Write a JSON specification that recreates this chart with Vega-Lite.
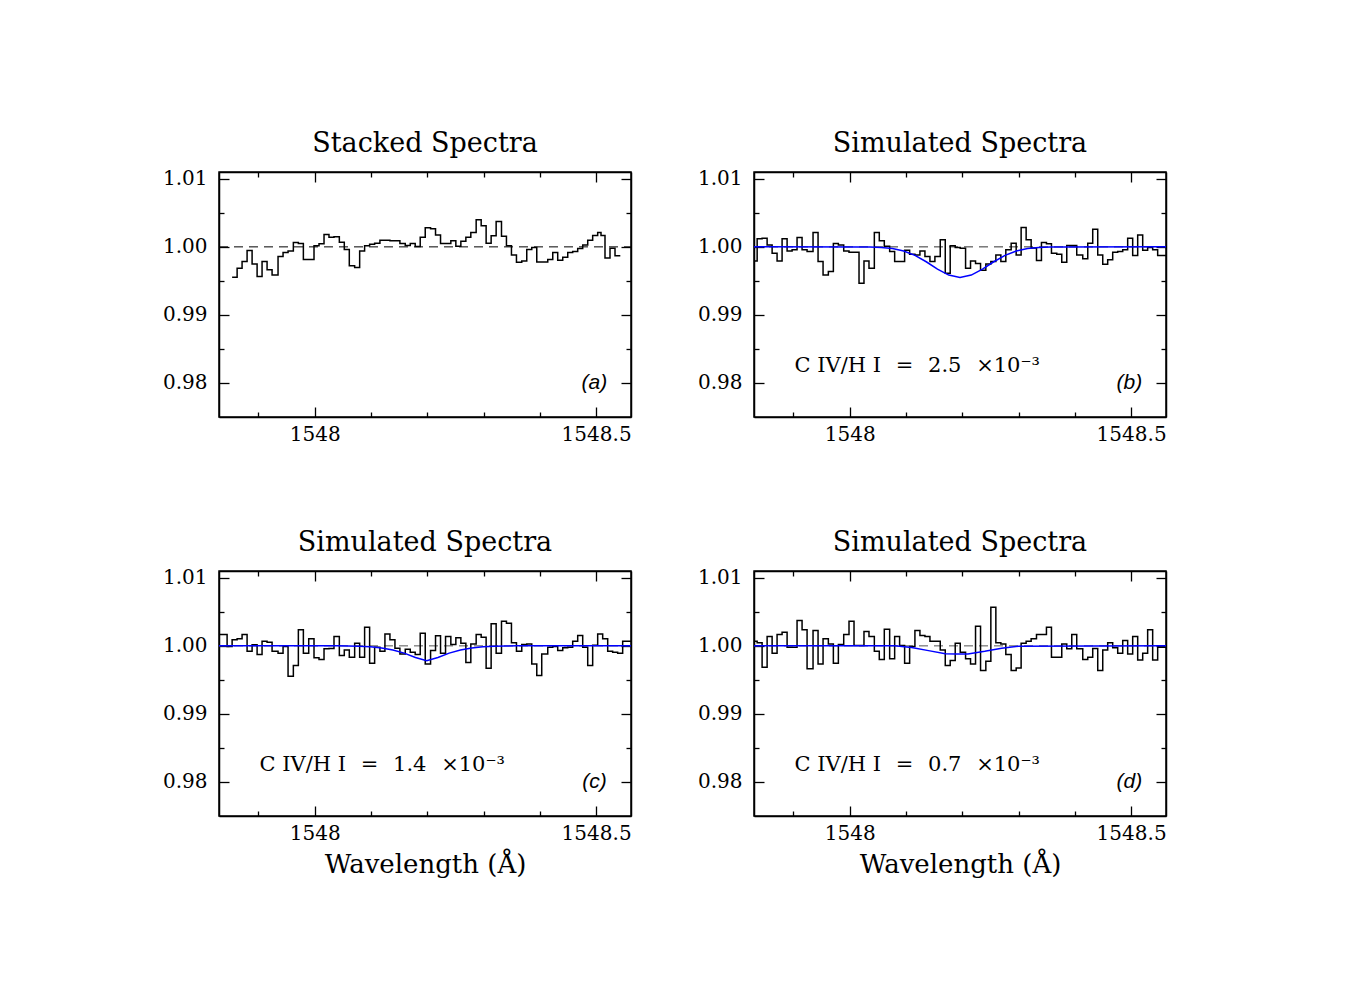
{
  "$schema": "https://vega.github.io/schema/vega-lite/v6.json",
  "background": "white",
  "padding": {"left": 161, "top": 129, "right": 10, "bottom": 10},
  "columns": 2,
  "spacing": {"row": 154, "column": 123},
  "bounds": "flush",
  "datasets": {
    "unity": [{"wavelength": 1547.83, "flux": 1.0}, {"wavelength": 1548.562, "flux": 1.0}],
    "a": [
      {"wavelength": 1547.8533, "flux": 0.99554}, {"wavelength": 1547.8622, "flux": 0.99686}, {"wavelength": 1547.871, "flux": 0.99784}, {"wavelength": 1547.8799, "flux": 0.99946}, {"wavelength": 1547.8888, "flux": 0.9975}, {"wavelength": 1547.8977, "flux": 0.99564}, {"wavelength": 1547.9065, "flux": 0.99784}, {"wavelength": 1547.9154, "flux": 0.99662}, {"wavelength": 1547.9243, "flux": 0.99588}, {"wavelength": 1547.9349, "flux": 0.99858}, {"wavelength": 1547.9438, "flux": 0.99917}, {"wavelength": 1547.9527, "flux": 0.99941}, {"wavelength": 1547.9621, "flux": 1.00064}, {"wavelength": 1547.971, "flux": 1.00049}, {"wavelength": 1547.9799, "flux": 0.99814}, {"wavelength": 1547.9988, "flux": 1.00015}, {"wavelength": 1548.0077, "flux": 1.00044}, {"wavelength": 1548.0166, "flux": 1.00181}, {"wavelength": 1548.0254, "flux": 1.00142}, {"wavelength": 1548.0343, "flux": 1.00147}, {"wavelength": 1548.0438, "flux": 1.00069}, {"wavelength": 1548.0526, "flux": 0.99961}, {"wavelength": 1548.0615, "flux": 0.99721}, {"wavelength": 1548.071, "flux": 0.99696}, {"wavelength": 1548.0799, "flux": 0.99941}, {"wavelength": 1548.0887, "flux": 1.00015}, {"wavelength": 1548.0976, "flux": 1.00039}, {"wavelength": 1548.1065, "flux": 1.00054}, {"wavelength": 1548.1159, "flux": 1.00098}, {"wavelength": 1548.1337, "flux": 1.00088}, {"wavelength": 1548.1514, "flux": 1.00049}, {"wavelength": 1548.1609, "flux": 1.0002}, {"wavelength": 1548.1698, "flux": 1.00049}, {"wavelength": 1548.1786, "flux": 1.00005}, {"wavelength": 1548.1875, "flux": 1.00142}, {"wavelength": 1548.1964, "flux": 1.00279}, {"wavelength": 1548.2059, "flux": 1.00265}, {"wavelength": 1548.2147, "flux": 1.00176}, {"wavelength": 1548.2236, "flux": 1.00049}, {"wavelength": 1548.2419, "flux": 1.00088}, {"wavelength": 1548.2508, "flux": 1.0001}, {"wavelength": 1548.2597, "flux": 1.00083}, {"wavelength": 1548.2686, "flux": 1.00142}, {"wavelength": 1548.2774, "flux": 1.00211}, {"wavelength": 1548.2869, "flux": 1.00397}, {"wavelength": 1548.2958, "flux": 1.00309}, {"wavelength": 1548.3046, "flux": 1.00054}, {"wavelength": 1548.3135, "flux": 1.00162}, {"wavelength": 1548.3224, "flux": 1.00373}, {"wavelength": 1548.3319, "flux": 1.00157}, {"wavelength": 1548.3407, "flux": 1.00015}, {"wavelength": 1548.3496, "flux": 0.99882}, {"wavelength": 1548.3585, "flux": 0.99775}, {"wavelength": 1548.3679, "flux": 0.99794}, {"wavelength": 1548.3768, "flux": 0.99961}, {"wavelength": 1548.3857, "flux": 0.9999}, {"wavelength": 1548.3946, "flux": 0.99779}, {"wavelength": 1548.4141, "flux": 0.99814}, {"wavelength": 1548.423, "flux": 0.99917}, {"wavelength": 1548.4318, "flux": 0.99804}, {"wavelength": 1548.4407, "flux": 0.99848}, {"wavelength": 1548.4496, "flux": 0.99917}, {"wavelength": 1548.4584, "flux": 0.99931}, {"wavelength": 1548.4673, "flux": 0.99975}, {"wavelength": 1548.4762, "flux": 1.00029}, {"wavelength": 1548.4851, "flux": 1.00098}, {"wavelength": 1548.4939, "flux": 1.00167}, {"wavelength": 1548.5028, "flux": 1.00211}, {"wavelength": 1548.5087, "flux": 1.00167}, {"wavelength": 1548.5158, "flux": 0.99838}, {"wavelength": 1548.5247, "flux": 0.9998}, {"wavelength": 1548.5336, "flux": 0.99868}, {"wavelength": 1548.543, "flux": 0.99868}
    ],
    "b": [
      {"wavelength": 1547.8302, "flux": 0.99794}, {"wavelength": 1547.8356, "flux": 1.00118}, {"wavelength": 1547.8444, "flux": 1.00127}, {"wavelength": 1547.8533, "flux": 1.00029}, {"wavelength": 1547.8622, "flux": 0.99907}, {"wavelength": 1547.871, "flux": 0.99794}, {"wavelength": 1547.8799, "flux": 1.00118}, {"wavelength": 1547.8888, "flux": 0.99941}, {"wavelength": 1547.8977, "flux": 0.99956}, {"wavelength": 1547.9065, "flux": 1.00137}, {"wavelength": 1547.9154, "flux": 0.99956}, {"wavelength": 1547.9243, "flux": 0.99931}, {"wavelength": 1547.9349, "flux": 1.00211}, {"wavelength": 1547.9438, "flux": 0.99784}, {"wavelength": 1547.9527, "flux": 0.99588}, {"wavelength": 1547.9621, "flux": 0.99637}, {"wavelength": 1547.971, "flux": 1.00049}, {"wavelength": 1547.9799, "flux": 1.00029}, {"wavelength": 1547.9894, "flux": 0.99941}, {"wavelength": 1547.9988, "flux": 0.99922}, {"wavelength": 1548.0077, "flux": 0.99922}, {"wavelength": 1548.0166, "flux": 0.99466}, {"wavelength": 1548.0254, "flux": 0.99794}, {"wavelength": 1548.0343, "flux": 0.99686}, {"wavelength": 1548.0438, "flux": 1.00211}, {"wavelength": 1548.0526, "flux": 1.00088}, {"wavelength": 1548.0615, "flux": 1.0001}, {"wavelength": 1548.071, "flux": 0.99931}, {"wavelength": 1548.0799, "flux": 0.99784}, {"wavelength": 1548.0887, "flux": 0.99784}, {"wavelength": 1548.0976, "flux": 0.99951}, {"wavelength": 1548.1065, "flux": 0.99892}, {"wavelength": 1548.1159, "flux": 0.99882}, {"wavelength": 1548.1248, "flux": 0.99941}, {"wavelength": 1548.1337, "flux": 0.99858}, {"wavelength": 1548.1426, "flux": 0.99784}, {"wavelength": 1548.1514, "flux": 0.99858}, {"wavelength": 1548.1609, "flux": 1.00103}, {"wavelength": 1548.1698, "flux": 0.99613}, {"wavelength": 1548.1786, "flux": 1.00015}, {"wavelength": 1548.1875, "flux": 0.9999}, {"wavelength": 1548.1964, "flux": 0.9998}, {"wavelength": 1548.2059, "flux": 0.99686}, {"wavelength": 1548.2147, "flux": 0.99794}, {"wavelength": 1548.2236, "flux": 0.99755}, {"wavelength": 1548.2325, "flux": 0.99657}, {"wavelength": 1548.2419, "flux": 0.9975}, {"wavelength": 1548.2508, "flux": 0.99784}, {"wavelength": 1548.2597, "flux": 0.99882}, {"wavelength": 1548.2686, "flux": 0.99784}, {"wavelength": 1548.2774, "flux": 0.99956}, {"wavelength": 1548.2869, "flux": 1.00054}, {"wavelength": 1548.2958, "flux": 0.99882}, {"wavelength": 1548.3046, "flux": 1.00284}, {"wavelength": 1548.3135, "flux": 1.00103}, {"wavelength": 1548.3224, "flux": 0.99985}, {"wavelength": 1548.3319, "flux": 0.99799}, {"wavelength": 1548.3407, "flux": 1.00064}, {"wavelength": 1548.3496, "flux": 1.00044}, {"wavelength": 1548.3585, "flux": 0.99907}, {"wavelength": 1548.3679, "flux": 0.99892}, {"wavelength": 1548.3768, "flux": 0.99775}, {"wavelength": 1548.3857, "flux": 1.0002}, {"wavelength": 1548.3946, "flux": 1.0002}, {"wavelength": 1548.4034, "flux": 0.99882}, {"wavelength": 1548.4141, "flux": 0.99824}, {"wavelength": 1548.423, "flux": 1.00054}, {"wavelength": 1548.4318, "flux": 1.0026}, {"wavelength": 1548.4407, "flux": 0.99882}, {"wavelength": 1548.4496, "flux": 0.99745}, {"wavelength": 1548.4584, "flux": 0.99809}, {"wavelength": 1548.4673, "flux": 0.99922}, {"wavelength": 1548.4762, "flux": 0.99931}, {"wavelength": 1548.4851, "flux": 0.99956}, {"wavelength": 1548.4939, "flux": 1.00127}, {"wavelength": 1548.5028, "flux": 0.99873}, {"wavelength": 1548.5117, "flux": 1.00176}, {"wavelength": 1548.5206, "flux": 0.99951}, {"wavelength": 1548.5294, "flux": 0.9999}, {"wavelength": 1548.5383, "flux": 0.99956}, {"wavelength": 1548.5472, "flux": 0.99873}, {"wavelength": 1548.562, "flux": 0.99873}
    ],
    "c": [
      {"wavelength": 1547.8302, "flux": 1.00167}, {"wavelength": 1547.8356, "flux": 1.00167}, {"wavelength": 1547.8444, "flux": 0.9999}, {"wavelength": 1547.8533, "flux": 1.00088}, {"wavelength": 1547.8622, "flux": 1.00103}, {"wavelength": 1547.871, "flux": 1.00167}, {"wavelength": 1547.8799, "flux": 0.99922}, {"wavelength": 1547.8888, "flux": 1.00015}, {"wavelength": 1547.8977, "flux": 0.99873}, {"wavelength": 1547.9065, "flux": 1.00069}, {"wavelength": 1547.9154, "flux": 1.00054}, {"wavelength": 1547.9243, "flux": 0.99922}, {"wavelength": 1547.9349, "flux": 0.99892}, {"wavelength": 1547.9438, "flux": 0.9999}, {"wavelength": 1547.9527, "flux": 0.99554}, {"wavelength": 1547.9621, "flux": 0.99711}, {"wavelength": 1547.971, "flux": 1.00235}, {"wavelength": 1547.9799, "flux": 0.99892}, {"wavelength": 1547.9894, "flux": 1.00103}, {"wavelength": 1547.9988, "flux": 0.99824}, {"wavelength": 1548.0077, "flux": 0.99799}, {"wavelength": 1548.0166, "flux": 0.99956}, {"wavelength": 1548.0254, "flux": 0.99961}, {"wavelength": 1548.0343, "flux": 1.00137}, {"wavelength": 1548.0438, "flux": 0.99858}, {"wavelength": 1548.0526, "flux": 0.99941}, {"wavelength": 1548.0615, "flux": 0.99833}, {"wavelength": 1548.071, "flux": 1.00039}, {"wavelength": 1548.0799, "flux": 0.99833}, {"wavelength": 1548.0887, "flux": 1.00275}, {"wavelength": 1548.0976, "flux": 0.99745}, {"wavelength": 1548.1065, "flux": 0.9998}, {"wavelength": 1548.1159, "flux": 0.99922}, {"wavelength": 1548.1248, "flux": 1.00176}, {"wavelength": 1548.1337, "flux": 1.00088}, {"wavelength": 1548.1426, "flux": 0.99966}, {"wavelength": 1548.1514, "flux": 0.99882}, {"wavelength": 1548.1609, "flux": 0.99951}, {"wavelength": 1548.1698, "flux": 0.99907}, {"wavelength": 1548.1786, "flux": 0.99873}, {"wavelength": 1548.1875, "flux": 1.00186}, {"wavelength": 1548.1964, "flux": 0.99735}, {"wavelength": 1548.2059, "flux": 0.99931}, {"wavelength": 1548.2147, "flux": 1.00147}, {"wavelength": 1548.2236, "flux": 0.99892}, {"wavelength": 1548.2325, "flux": 1.00137}, {"wavelength": 1548.2419, "flux": 1.0002}, {"wavelength": 1548.2508, "flux": 1.00118}, {"wavelength": 1548.2597, "flux": 1.00039}, {"wavelength": 1548.2686, "flux": 0.99755}, {"wavelength": 1548.2774, "flux": 1.00029}, {"wavelength": 1548.2869, "flux": 1.00167}, {"wavelength": 1548.2958, "flux": 1.00127}, {"wavelength": 1548.3046, "flux": 0.99672}, {"wavelength": 1548.3135, "flux": 1.00324}, {"wavelength": 1548.3224, "flux": 0.99892}, {"wavelength": 1548.3319, "flux": 1.00363}, {"wavelength": 1548.3407, "flux": 1.00333}, {"wavelength": 1548.3496, "flux": 1.00044}, {"wavelength": 1548.3585, "flux": 0.99922}, {"wavelength": 1548.3679, "flux": 1.0002}, {"wavelength": 1548.3768, "flux": 1.00029}, {"wavelength": 1548.3857, "flux": 0.99735}, {"wavelength": 1548.3946, "flux": 0.99564}, {"wavelength": 1548.4034, "flux": 0.99882}, {"wavelength": 1548.4141, "flux": 0.9998}, {"wavelength": 1548.423, "flux": 0.9999}, {"wavelength": 1548.4318, "flux": 0.99931}, {"wavelength": 1548.4407, "flux": 0.99971}, {"wavelength": 1548.4496, "flux": 0.9998}, {"wavelength": 1548.4584, "flux": 1.00069}, {"wavelength": 1548.4673, "flux": 1.00152}, {"wavelength": 1548.4762, "flux": 0.9998}, {"wavelength": 1548.4851, "flux": 0.99711}, {"wavelength": 1548.4939, "flux": 1.0001}, {"wavelength": 1548.5028, "flux": 1.00176}, {"wavelength": 1548.5117, "flux": 1.00103}, {"wavelength": 1548.5206, "flux": 0.99922}, {"wavelength": 1548.5294, "flux": 0.99907}, {"wavelength": 1548.5383, "flux": 0.99892}, {"wavelength": 1548.5472, "flux": 1.00069}, {"wavelength": 1548.562, "flux": 1.00069}
    ],
    "d": [
      {"wavelength": 1547.8302, "flux": 1.00069}, {"wavelength": 1547.8356, "flux": 1.00044}, {"wavelength": 1547.8444, "flux": 0.99686}, {"wavelength": 1547.8533, "flux": 1.00137}, {"wavelength": 1547.8622, "flux": 0.99892}, {"wavelength": 1547.871, "flux": 1.00167}, {"wavelength": 1547.8799, "flux": 1.00201}, {"wavelength": 1547.8888, "flux": 0.9998}, {"wavelength": 1547.8977, "flux": 0.9998}, {"wavelength": 1547.9065, "flux": 1.00373}, {"wavelength": 1547.9154, "flux": 1.00235}, {"wavelength": 1547.9243, "flux": 0.99662}, {"wavelength": 1547.9349, "flux": 1.00225}, {"wavelength": 1547.9438, "flux": 0.99735}, {"wavelength": 1547.9527, "flux": 1.00103}, {"wavelength": 1547.9621, "flux": 1.00029}, {"wavelength": 1547.971, "flux": 0.99745}, {"wavelength": 1547.9799, "flux": 1.0002}, {"wavelength": 1547.9894, "flux": 1.00167}, {"wavelength": 1547.9988, "flux": 1.00363}, {"wavelength": 1548.0077, "flux": 1.00005}, {"wavelength": 1548.0166, "flux": 1.00005}, {"wavelength": 1548.0254, "flux": 1.00211}, {"wavelength": 1548.0343, "flux": 1.00137}, {"wavelength": 1548.0438, "flux": 0.99922}, {"wavelength": 1548.0526, "flux": 0.99799}, {"wavelength": 1548.0615, "flux": 1.00245}, {"wavelength": 1548.071, "flux": 0.99809}, {"wavelength": 1548.0799, "flux": 1.00137}, {"wavelength": 1548.0887, "flux": 1.00005}, {"wavelength": 1548.0976, "flux": 0.99745}, {"wavelength": 1548.1065, "flux": 0.9999}, {"wavelength": 1548.1159, "flux": 1.00225}, {"wavelength": 1548.1248, "flux": 1.00152}, {"wavelength": 1548.1337, "flux": 1.00137}, {"wavelength": 1548.1426, "flux": 1.00069}, {"wavelength": 1548.1514, "flux": 1.00069}, {"wavelength": 1548.1609, "flux": 0.99941}, {"wavelength": 1548.1698, "flux": 0.99711}, {"wavelength": 1548.1786, "flux": 0.99784}, {"wavelength": 1548.1875, "flux": 1.00039}, {"wavelength": 1548.1964, "flux": 0.99907}, {"wavelength": 1548.2059, "flux": 0.99809}, {"wavelength": 1548.2147, "flux": 0.99735}, {"wavelength": 1548.2236, "flux": 1.00289}, {"wavelength": 1548.2325, "flux": 0.99637}, {"wavelength": 1548.2419, "flux": 0.99775}, {"wavelength": 1548.2508, "flux": 1.00569}, {"wavelength": 1548.2597, "flux": 1.00044}, {"wavelength": 1548.2686, "flux": 1.00029}, {"wavelength": 1548.2774, "flux": 0.99873}, {"wavelength": 1548.2869, "flux": 0.99637}, {"wavelength": 1548.2958, "flux": 0.99676}, {"wavelength": 1548.3046, "flux": 1.00039}, {"wavelength": 1548.3135, "flux": 1.00069}, {"wavelength": 1548.3224, "flux": 1.00103}, {"wavelength": 1548.3319, "flux": 1.00167}, {"wavelength": 1548.3407, "flux": 1.00167}, {"wavelength": 1548.3496, "flux": 1.00275}, {"wavelength": 1548.3585, "flux": 0.99833}, {"wavelength": 1548.3679, "flux": 0.99833}, {"wavelength": 1548.3768, "flux": 1.00029}, {"wavelength": 1548.3857, "flux": 0.99956}, {"wavelength": 1548.3946, "flux": 1.00167}, {"wavelength": 1548.4034, "flux": 0.99956}, {"wavelength": 1548.4141, "flux": 0.99799}, {"wavelength": 1548.423, "flux": 0.99833}, {"wavelength": 1548.4318, "flux": 0.99961}, {"wavelength": 1548.4407, "flux": 0.99637}, {"wavelength": 1548.4496, "flux": 0.99941}, {"wavelength": 1548.4584, "flux": 1.00044}, {"wavelength": 1548.4673, "flux": 0.99971}, {"wavelength": 1548.4762, "flux": 0.99892}, {"wavelength": 1548.4851, "flux": 1.00078}, {"wavelength": 1548.4939, "flux": 0.99882}, {"wavelength": 1548.5028, "flux": 1.00137}, {"wavelength": 1548.5117, "flux": 0.99794}, {"wavelength": 1548.5206, "flux": 0.99892}, {"wavelength": 1548.5294, "flux": 1.00235}, {"wavelength": 1548.5383, "flux": 0.99794}, {"wavelength": 1548.5472, "flux": 0.9998}, {"wavelength": 1548.562, "flux": 0.9998}
    ],
    "mb": [
      {"wavelength": 1547.83, "flux": 1.0}, {"wavelength": 1548.016, "flux": 0.99999}, {"wavelength": 1548.036, "flux": 0.99997}, {"wavelength": 1548.056, "flux": 0.99991}, {"wavelength": 1548.076, "flux": 0.99975}, {"wavelength": 1548.096, "flux": 0.99939}, {"wavelength": 1548.116, "flux": 0.99875}, {"wavelength": 1548.136, "flux": 0.99781}, {"wavelength": 1548.156, "flux": 0.99673}, {"wavelength": 1548.176, "flux": 0.99585}, {"wavelength": 1548.196, "flux": 0.9955}, {"wavelength": 1548.216, "flux": 0.99585}, {"wavelength": 1548.236, "flux": 0.99673}, {"wavelength": 1548.256, "flux": 0.99781}, {"wavelength": 1548.276, "flux": 0.99875}, {"wavelength": 1548.296, "flux": 0.99939}, {"wavelength": 1548.316, "flux": 0.99975}, {"wavelength": 1548.336, "flux": 0.99991}, {"wavelength": 1548.356, "flux": 0.99997}, {"wavelength": 1548.376, "flux": 0.99999}, {"wavelength": 1548.562, "flux": 1.0}
    ],
    "mc": [
      {"wavelength": 1547.83, "flux": 1.0}, {"wavelength": 1548.039, "flux": 1.0}, {"wavelength": 1548.059, "flux": 0.99999}, {"wavelength": 1548.079, "flux": 0.99996}, {"wavelength": 1548.099, "flux": 0.99988}, {"wavelength": 1548.119, "flux": 0.9997}, {"wavelength": 1548.139, "flux": 0.99939}, {"wavelength": 1548.159, "flux": 0.99893}, {"wavelength": 1548.179, "flux": 0.99828}, {"wavelength": 1548.199, "flux": 0.9978}, {"wavelength": 1548.219, "flux": 0.99828}, {"wavelength": 1548.239, "flux": 0.99893}, {"wavelength": 1548.259, "flux": 0.99939}, {"wavelength": 1548.279, "flux": 0.9997}, {"wavelength": 1548.299, "flux": 0.99988}, {"wavelength": 1548.319, "flux": 0.99996}, {"wavelength": 1548.339, "flux": 0.99999}, {"wavelength": 1548.359, "flux": 1.0}, {"wavelength": 1548.562, "flux": 1.0}
    ],
    "md": [
      {"wavelength": 1547.83, "flux": 1.0}, {"wavelength": 1548.08, "flux": 1.0}, {"wavelength": 1548.11, "flux": 0.99975}, {"wavelength": 1548.14, "flux": 0.9993}, {"wavelength": 1548.17, "flux": 0.99885}, {"wavelength": 1548.19, "flux": 0.9988}, {"wavelength": 1548.21, "flux": 0.99882}, {"wavelength": 1548.24, "flux": 0.9992}, {"wavelength": 1548.27, "flux": 0.99965}, {"wavelength": 1548.3, "flux": 0.99995}, {"wavelength": 1548.562, "flux": 1.0}
    ]
  },
  "concat": [
    {
      "title": {"text": "Stacked Spectra"},
      "width": 412, "height": 245,
      "layer": [
        {"data": {"name": "unity"}, "mark": {"type": "line", "color": "black", "strokeWidth": 1, "strokeDash": [9, 6]},
         "encoding": {
           "x": {"field": "wavelength", "type": "quantitative", "scale": {"domain": [1547.83, 1548.562], "nice": false, "zero": false},
                 "axis": {"orient": "top", "title": null, "labels": false, "values": [1547.9, 1548, 1548.1, 1548.2, 1548.3, 1548.4, 1548.5], "tickSize": {"condition": {"test": "datum.value == 1548 || datum.value == 1548.5", "value": -10}, "value": -5}}},
           "y": {"field": "flux", "type": "quantitative", "scale": {"domain": [0.975, 1.011], "nice": false, "zero": false},
                 "axis": {"orient": "right", "title": null, "labels": false, "values": [0.98, 0.985, 0.99, 0.995, 1, 1.005, 1.01], "tickSize": {"condition": {"test": "datum.value == 0.98 || datum.value == 0.99 || datum.value == 1 || datum.value == 1.01", "value": -10}, "value": -5}}}
         }},
        {"data": {"name": "a"}, "mark": {"type": "line", "interpolate": "step-after", "color": "black", "strokeWidth": 1.5},
         "encoding": {
           "x": {"field": "wavelength", "type": "quantitative", "scale": {"domain": [1547.83, 1548.562], "nice": false, "zero": false},
                 "axis": {"orient": "bottom", "title": null, "values": [1547.9, 1548, 1548.1, 1548.2, 1548.3, 1548.4, 1548.5], "labelExpr": "datum.value == 1548 ? '1548' : (datum.value == 1548.5 ? '1548.5' : '')", "tickSize": {"condition": {"test": "datum.value == 1548 || datum.value == 1548.5", "value": -10}, "value": -5}, "labelPadding": 17}},
           "y": {"field": "flux", "type": "quantitative", "scale": {"domain": [0.975, 1.011], "nice": false, "zero": false},
                 "axis": {"orient": "left", "title": null, "values": [0.98, 0.985, 0.99, 0.995, 1, 1.005, 1.01], "labelExpr": "datum.value == 0.98 ? '0.98' : (datum.value == 0.99 ? '0.99' : (datum.value == 1 ? '1.00' : (datum.value == 1.01 ? '1.01' : '')))", "tickSize": {"condition": {"test": "datum.value == 0.98 || datum.value == 0.99 || datum.value == 1 || datum.value == 1.01", "value": -10}, "value": -5}, "labelPadding": 22}}
         }},
        {"data": {"values": [{}]}, "mark": {"type": "text", "text": "(a)", "font": "Liberation Sans", "fontStyle": "italic", "fontSize": 21, "align": "center", "baseline": "middle", "color": "black"},
         "encoding": {"x": {"datum": 1548.497, "type": "quantitative", "axis": null, "scale": {"domain": [1547.83, 1548.562], "nice": false, "zero": false}}, "y": {"datum": 0.98, "type": "quantitative", "axis": null, "scale": {"domain": [0.975, 1.011], "nice": false, "zero": false}}}}
      ],
      "resolve": {"axis": {"x": "independent", "y": "independent"}}
    },
    {
      "title": {"text": "Simulated Spectra"},
      "width": 412, "height": 245,
      "layer": [
        {"data": {"name": "unity"}, "mark": {"type": "line", "color": "#333333", "strokeWidth": 1, "strokeDash": [9, 6]},
         "encoding": {
           "x": {"field": "wavelength", "type": "quantitative", "scale": {"domain": [1547.83, 1548.562], "nice": false, "zero": false},
                 "axis": {"orient": "top", "title": null, "labels": false, "values": [1547.9, 1548, 1548.1, 1548.2, 1548.3, 1548.4, 1548.5], "tickSize": {"condition": {"test": "datum.value == 1548 || datum.value == 1548.5", "value": -10}, "value": -5}}},
           "y": {"field": "flux", "type": "quantitative", "scale": {"domain": [0.975, 1.011], "nice": false, "zero": false},
                 "axis": {"orient": "right", "title": null, "labels": false, "values": [0.98, 0.985, 0.99, 0.995, 1, 1.005, 1.01], "tickSize": {"condition": {"test": "datum.value == 0.98 || datum.value == 0.99 || datum.value == 1 || datum.value == 1.01", "value": -10}, "value": -5}}}
         }},
        {"data": {"name": "b"}, "mark": {"type": "line", "interpolate": "step-after", "color": "black", "strokeWidth": 1.5},
         "encoding": {
           "x": {"field": "wavelength", "type": "quantitative", "scale": {"domain": [1547.83, 1548.562], "nice": false, "zero": false},
                 "axis": {"orient": "bottom", "title": null, "values": [1547.9, 1548, 1548.1, 1548.2, 1548.3, 1548.4, 1548.5], "labelExpr": "datum.value == 1548 ? '1548' : (datum.value == 1548.5 ? '1548.5' : '')", "tickSize": {"condition": {"test": "datum.value == 1548 || datum.value == 1548.5", "value": -10}, "value": -5}, "labelPadding": 17}},
           "y": {"field": "flux", "type": "quantitative", "scale": {"domain": [0.975, 1.011], "nice": false, "zero": false},
                 "axis": {"orient": "left", "title": null, "values": [0.98, 0.985, 0.99, 0.995, 1, 1.005, 1.01], "labelExpr": "datum.value == 0.98 ? '0.98' : (datum.value == 0.99 ? '0.99' : (datum.value == 1 ? '1.00' : (datum.value == 1.01 ? '1.01' : '')))", "tickSize": {"condition": {"test": "datum.value == 0.98 || datum.value == 0.99 || datum.value == 1 || datum.value == 1.01", "value": -10}, "value": -5}, "labelPadding": 22}}
         }},
        {"data": {"name": "mb"}, "mark": {"type": "line", "color": "#0000ff", "strokeWidth": 1.5},
         "encoding": {
           "x": {"field": "wavelength", "type": "quantitative", "axis": null, "scale": {"domain": [1547.83, 1548.562], "nice": false, "zero": false}},
           "y": {"field": "flux", "type": "quantitative", "axis": null, "scale": {"domain": [0.975, 1.011], "nice": false, "zero": false}}
         }},
        {"data": {"values": [{}]}, "mark": {"type": "text", "text": "C IV/H I\u2002\u2009=\u2002\u20092.5\u2002\u2009×10⁻³", "font": "DejaVu Serif", "fontSize": 21, "align": "left", "baseline": "middle", "color": "black"},
         "encoding": {"x": {"datum": 1547.902, "type": "quantitative", "axis": null, "scale": {"domain": [1547.83, 1548.562], "nice": false, "zero": false}}, "y": {"datum": 0.9825, "type": "quantitative", "axis": null, "scale": {"domain": [0.975, 1.011], "nice": false, "zero": false}}}},
        {"data": {"values": [{}]}, "mark": {"type": "text", "text": "(b)", "font": "Liberation Sans", "fontStyle": "italic", "fontSize": 21, "align": "center", "baseline": "middle", "color": "black"},
         "encoding": {"x": {"datum": 1548.497, "type": "quantitative", "axis": null, "scale": {"domain": [1547.83, 1548.562], "nice": false, "zero": false}}, "y": {"datum": 0.98, "type": "quantitative", "axis": null, "scale": {"domain": [0.975, 1.011], "nice": false, "zero": false}}}}
      ],
      "resolve": {"axis": {"x": "independent", "y": "independent"}}
    },
    {
      "title": {"text": "Simulated Spectra"},
      "width": 412, "height": 245,
      "layer": [
        {"data": {"name": "unity"}, "mark": {"type": "line", "color": "#555555", "strokeWidth": 1, "strokeDash": [9, 6]},
         "encoding": {
           "x": {"field": "wavelength", "type": "quantitative", "scale": {"domain": [1547.83, 1548.562], "nice": false, "zero": false},
                 "axis": {"orient": "top", "title": null, "labels": false, "values": [1547.9, 1548, 1548.1, 1548.2, 1548.3, 1548.4, 1548.5], "tickSize": {"condition": {"test": "datum.value == 1548 || datum.value == 1548.5", "value": -10}, "value": -5}}},
           "y": {"field": "flux", "type": "quantitative", "scale": {"domain": [0.975, 1.011], "nice": false, "zero": false},
                 "axis": {"orient": "right", "title": null, "labels": false, "values": [0.98, 0.985, 0.99, 0.995, 1, 1.005, 1.01], "tickSize": {"condition": {"test": "datum.value == 0.98 || datum.value == 0.99 || datum.value == 1 || datum.value == 1.01", "value": -10}, "value": -5}}}
         }},
        {"data": {"name": "c"}, "mark": {"type": "line", "interpolate": "step-after", "color": "black", "strokeWidth": 1.5},
         "encoding": {
           "x": {"field": "wavelength", "type": "quantitative", "scale": {"domain": [1547.83, 1548.562], "nice": false, "zero": false},
                 "axis": {"orient": "bottom", "title": "Wavelength (Å)", "values": [1547.9, 1548, 1548.1, 1548.2, 1548.3, 1548.4, 1548.5], "labelExpr": "datum.value == 1548 ? '1548' : (datum.value == 1548.5 ? '1548.5' : '')", "tickSize": {"condition": {"test": "datum.value == 1548 || datum.value == 1548.5", "value": -10}, "value": -5}, "labelPadding": 17}},
           "y": {"field": "flux", "type": "quantitative", "scale": {"domain": [0.975, 1.011], "nice": false, "zero": false},
                 "axis": {"orient": "left", "title": null, "values": [0.98, 0.985, 0.99, 0.995, 1, 1.005, 1.01], "labelExpr": "datum.value == 0.98 ? '0.98' : (datum.value == 0.99 ? '0.99' : (datum.value == 1 ? '1.00' : (datum.value == 1.01 ? '1.01' : '')))", "tickSize": {"condition": {"test": "datum.value == 0.98 || datum.value == 0.99 || datum.value == 1 || datum.value == 1.01", "value": -10}, "value": -5}, "labelPadding": 22}}
         }},
        {"data": {"name": "mc"}, "mark": {"type": "line", "color": "#0000ff", "strokeWidth": 1.5},
         "encoding": {
           "x": {"field": "wavelength", "type": "quantitative", "axis": null, "scale": {"domain": [1547.83, 1548.562], "nice": false, "zero": false}},
           "y": {"field": "flux", "type": "quantitative", "axis": null, "scale": {"domain": [0.975, 1.011], "nice": false, "zero": false}}
         }},
        {"data": {"values": [{}]}, "mark": {"type": "text", "text": "C IV/H I\u2002\u2009=\u2002\u20091.4\u2002\u2009×10⁻³", "font": "DejaVu Serif", "fontSize": 21, "align": "left", "baseline": "middle", "color": "black"},
         "encoding": {"x": {"datum": 1547.902, "type": "quantitative", "axis": null, "scale": {"domain": [1547.83, 1548.562], "nice": false, "zero": false}}, "y": {"datum": 0.9825, "type": "quantitative", "axis": null, "scale": {"domain": [0.975, 1.011], "nice": false, "zero": false}}}},
        {"data": {"values": [{}]}, "mark": {"type": "text", "text": "(c)", "font": "Liberation Sans", "fontStyle": "italic", "fontSize": 21, "align": "center", "baseline": "middle", "color": "black"},
         "encoding": {"x": {"datum": 1548.497, "type": "quantitative", "axis": null, "scale": {"domain": [1547.83, 1548.562], "nice": false, "zero": false}}, "y": {"datum": 0.98, "type": "quantitative", "axis": null, "scale": {"domain": [0.975, 1.011], "nice": false, "zero": false}}}}
      ],
      "resolve": {"axis": {"x": "independent", "y": "independent"}}
    },
    {
      "title": {"text": "Simulated Spectra"},
      "width": 412, "height": 245,
      "layer": [
        {"data": {"name": "unity"}, "mark": {"type": "line", "color": "#555555", "strokeWidth": 1, "strokeDash": [9, 6]},
         "encoding": {
           "x": {"field": "wavelength", "type": "quantitative", "scale": {"domain": [1547.83, 1548.562], "nice": false, "zero": false},
                 "axis": {"orient": "top", "title": null, "labels": false, "values": [1547.9, 1548, 1548.1, 1548.2, 1548.3, 1548.4, 1548.5], "tickSize": {"condition": {"test": "datum.value == 1548 || datum.value == 1548.5", "value": -10}, "value": -5}}},
           "y": {"field": "flux", "type": "quantitative", "scale": {"domain": [0.975, 1.011], "nice": false, "zero": false},
                 "axis": {"orient": "right", "title": null, "labels": false, "values": [0.98, 0.985, 0.99, 0.995, 1, 1.005, 1.01], "tickSize": {"condition": {"test": "datum.value == 0.98 || datum.value == 0.99 || datum.value == 1 || datum.value == 1.01", "value": -10}, "value": -5}}}
         }},
        {"data": {"name": "d"}, "mark": {"type": "line", "interpolate": "step-after", "color": "black", "strokeWidth": 1.5},
         "encoding": {
           "x": {"field": "wavelength", "type": "quantitative", "scale": {"domain": [1547.83, 1548.562], "nice": false, "zero": false},
                 "axis": {"orient": "bottom", "title": "Wavelength (Å)", "values": [1547.9, 1548, 1548.1, 1548.2, 1548.3, 1548.4, 1548.5], "labelExpr": "datum.value == 1548 ? '1548' : (datum.value == 1548.5 ? '1548.5' : '')", "tickSize": {"condition": {"test": "datum.value == 1548 || datum.value == 1548.5", "value": -10}, "value": -5}, "labelPadding": 17}},
           "y": {"field": "flux", "type": "quantitative", "scale": {"domain": [0.975, 1.011], "nice": false, "zero": false},
                 "axis": {"orient": "left", "title": null, "values": [0.98, 0.985, 0.99, 0.995, 1, 1.005, 1.01], "labelExpr": "datum.value == 0.98 ? '0.98' : (datum.value == 0.99 ? '0.99' : (datum.value == 1 ? '1.00' : (datum.value == 1.01 ? '1.01' : '')))", "tickSize": {"condition": {"test": "datum.value == 0.98 || datum.value == 0.99 || datum.value == 1 || datum.value == 1.01", "value": -10}, "value": -5}, "labelPadding": 22}}
         }},
        {"data": {"name": "md"}, "mark": {"type": "line", "color": "#0000ff", "strokeWidth": 1.5},
         "encoding": {
           "x": {"field": "wavelength", "type": "quantitative", "axis": null, "scale": {"domain": [1547.83, 1548.562], "nice": false, "zero": false}},
           "y": {"field": "flux", "type": "quantitative", "axis": null, "scale": {"domain": [0.975, 1.011], "nice": false, "zero": false}}
         }},
        {"data": {"values": [{}]}, "mark": {"type": "text", "text": "C IV/H I\u2002\u2009=\u2002\u20090.7\u2002\u2009×10⁻³", "font": "DejaVu Serif", "fontSize": 21, "align": "left", "baseline": "middle", "color": "black"},
         "encoding": {"x": {"datum": 1547.902, "type": "quantitative", "axis": null, "scale": {"domain": [1547.83, 1548.562], "nice": false, "zero": false}}, "y": {"datum": 0.9825, "type": "quantitative", "axis": null, "scale": {"domain": [0.975, 1.011], "nice": false, "zero": false}}}},
        {"data": {"values": [{}]}, "mark": {"type": "text", "text": "(d)", "font": "Liberation Sans", "fontStyle": "italic", "fontSize": 21, "align": "center", "baseline": "middle", "color": "black"},
         "encoding": {"x": {"datum": 1548.497, "type": "quantitative", "axis": null, "scale": {"domain": [1547.83, 1548.562], "nice": false, "zero": false}}, "y": {"datum": 0.98, "type": "quantitative", "axis": null, "scale": {"domain": [0.975, 1.011], "nice": false, "zero": false}}}}
      ],
      "resolve": {"axis": {"x": "independent", "y": "independent"}}
    }
  ],
  "config": {
    "view": {"stroke": "black", "strokeWidth": 1.5},
    "axis": {"grid": false, "domain": true, "domainColor": "black", "domainWidth": 1.5, "tickColor": "black", "tickWidth": 1.3, "labelFont": "DejaVu Serif", "labelFontSize": 20, "labelColor": "black", "labelFlush": false, "labelOverlap": false, "titleFont": "DejaVu Serif", "titleFontSize": 26, "titleFontWeight": "normal", "titleColor": "black", "titlePadding": 3},
    "title": {"font": "DejaVu Serif", "fontSize": 27, "fontWeight": "normal", "color": "black", "anchor": "middle", "frame": "group", "baseline": "alphabetic", "offset": 11}
  }
}
